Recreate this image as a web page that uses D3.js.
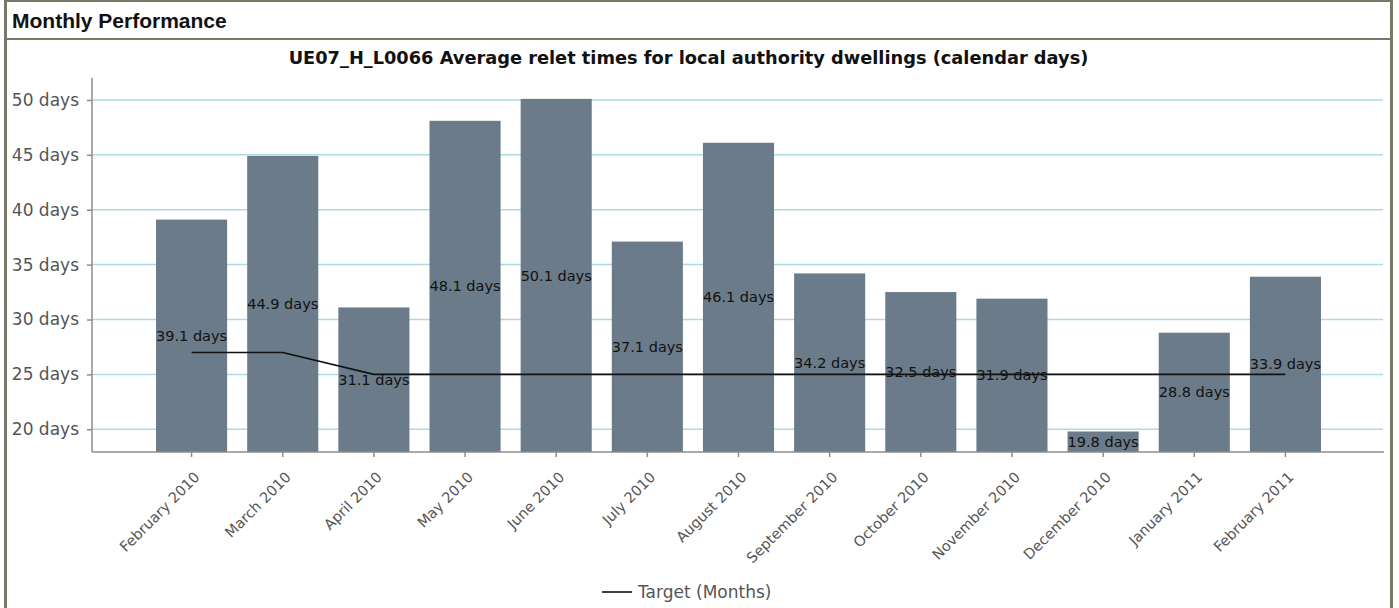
<!DOCTYPE html>
<html>
<head>
<meta charset="utf-8">
<script src="https://d3js.org/d3.v7.min.js"></script>
<style>
    body {
        margin: 0;
        background: #ffffff;
    }
    text {
        font-family: "DejaVu Sans", Verdana, sans-serif;
    }
    text.header {
        font-family: "Liberation Sans", Arial, sans-serif;
        font-size: 21px;
        font-weight: bold;
        fill: #111111;
    }
    text.chart-title {
        font-size: 17.8px;
        font-weight: bold;
        fill: #111111;
    }
    .y-axis text {
        font-size: 17px;
        fill: #555555;
    }
    .x-axis text {
        font-size: 14.5px;
        fill: #555555;
    }
    .axis path, .axis line {
        stroke: #8c8c8c;
        stroke-width: 1.5px;
    }
    .grid line {
        stroke: #acdbe4;
        stroke-width: 1.5px;
    }
    text.bar-label {
        font-size: 14.5px;
        fill: #111111;
    }
    text.legend {
        font-size: 17px;
        fill: #555555;
    }
</style>
</head>
<body>
<div id="container"></div>

<script>
    // chart data
    const months = ["February 2010", "March 2010", "April 2010", "May 2010", "June 2010", "July 2010",
        "August 2010", "September 2010", "October 2010", "November 2010", "December 2010",
        "January 2011", "February 2011"];
    const reletDays = [39.1, 44.9, 31.1, 48.1, 50.1, 37.1, 46.1, 34.2, 32.5, 31.9, 19.8, 28.8, 33.9];
    const targetDays = [27, 27, 25, 25, 25, 25, 25, 25, 25, 25, 25, 25, 25];
    const yTicks = [20, 25, 30, 35, 40, 45, 50];

    const W = 1399, H = 608;
    const plot = {left: 92, right: 1384, top: 78, bottom: 452};

    const svg = d3.select("#container")
        .append("svg")
        .attr("width", W)
        .attr("height", H);

    // panel frame
    const frame = "#787869";
    svg.append("rect").attr("x", 4).attr("y", 0).attr("width", 1389).attr("height", 2).attr("fill", frame);
    svg.append("rect").attr("x", 4).attr("y", 0).attr("width", 3).attr("height", H).attr("fill", frame);
    svg.append("rect").attr("x", 1390).attr("y", 0).attr("width", 3).attr("height", H).attr("fill", frame);
    svg.append("rect").attr("x", 4).attr("y", 38).attr("width", 1389).attr("height", 2).attr("fill", frame);

    svg.append("text")
        .attr("class", "header")
        .attr("x", 12)
        .attr("y", 28)
        .text("Monthly Performance");

    svg.append("text")
        .attr("class", "chart-title")
        .attr("x", 688.5)
        .attr("y", 64)
        .attr("text-anchor", "middle")
        .text("UE07_H_L0066 Average relet times for local authority dwellings (calendar days)");

    // scales
    const x = d3.scaleBand()
        .domain(months)
        .range([146, 1331])
        .paddingInner(0.22)
        .paddingOuter(0.11);

    const y = d3.scaleLinear()
        .domain([17.93, 52.0])
        .range([plot.bottom, plot.top]);

    // grid
    svg.append("g")
        .attr("class", "grid")
        .selectAll("line")
        .data(yTicks)
        .enter()
        .append("line")
        .attr("x1", plot.left)
        .attr("x2", plot.right - 1)
        .attr("y1", d => y(d))
        .attr("y2", d => y(d));

    // bars
    svg.selectAll(".bar")
        .data(reletDays)
        .enter()
        .append("rect")
        .attr("class", "bar")
        .attr("x", (d, i) => x(months[i]))
        .attr("y", d => y(d))
        .attr("width", x.bandwidth())
        .attr("height", d => plot.bottom - y(d))
        .attr("fill", "#6c7b8a");

    // target line
    const line = d3.line()
        .x((d, i) => x(months[i]) + x.bandwidth() / 2)
        .y(d => y(d));

    svg.append("path")
        .datum(targetDays)
        .attr("d", line)
        .attr("fill", "none")
        .attr("stroke", "#111111")
        .attr("stroke-width", 1.6);

    // value labels, centred in each bar
    svg.selectAll(".bar-label")
        .data(reletDays)
        .enter()
        .append("text")
        .attr("class", "bar-label")
        .attr("x", (d, i) => x(months[i]) + x.bandwidth() / 2)
        .attr("y", d => (y(d) + plot.bottom) / 2)
        .attr("dy", "0.35em")
        .attr("text-anchor", "middle")
        .text(d => d + " days");

    // y axis
    const yAxis = svg.append("g")
        .attr("class", "axis y-axis")
        .attr("transform", "translate(" + plot.left + ",0)")
        .call(d3.axisLeft(y)
            .tickValues(yTicks)
            .tickSize(5)
            .tickSizeOuter(0)
            .tickPadding(8)
            .tickFormat(d => d + " days"));
    yAxis.select(".domain").attr("d", "M0," + plot.top + "V" + plot.bottom);

    // x axis
    const xAxis = svg.append("g")
        .attr("class", "axis x-axis")
        .attr("transform", "translate(0," + plot.bottom + ")")
        .call(d3.axisBottom(x).tickSize(5).tickSizeOuter(0));
    xAxis.select(".domain").attr("d", "M" + plot.left + ",0H" + plot.right);
    xAxis.selectAll("text")
        .attr("y", 0)
        .attr("dy", 0)
        .attr("transform", "translate(9,26)rotate(-45)")
        .style("text-anchor", "end");

    // legend
    svg.append("line")
        .attr("x1", 602)
        .attr("x2", 632)
        .attr("y1", 592)
        .attr("y2", 592)
        .attr("stroke", "#111111")
        .attr("stroke-width", 1.6);
    svg.append("text")
        .attr("class", "legend")
        .attr("x", 638)
        .attr("y", 598)
        .text("Target (Months)");
</script>
</body>
</html>
